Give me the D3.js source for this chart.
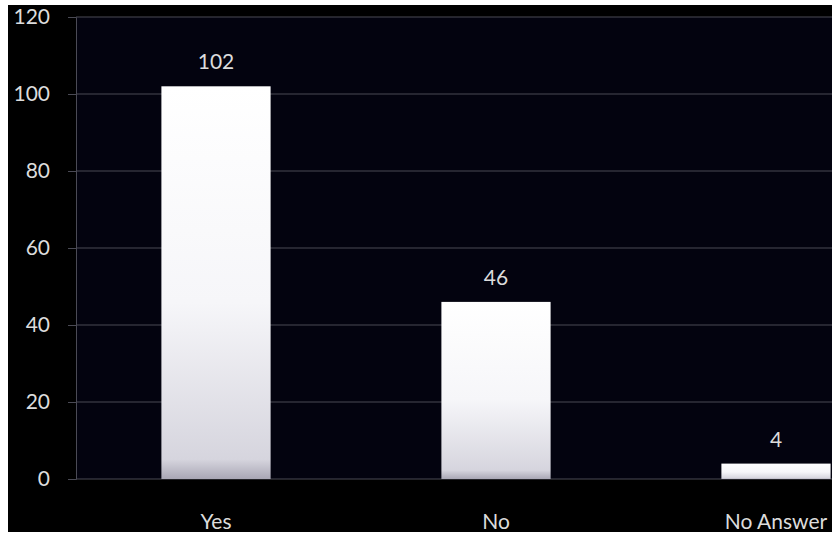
<!DOCTYPE html>
<html><head><meta charset="utf-8">
<script src="https://cdn.jsdelivr.net/npm/d3@7"></script>
<style>html,body{margin:0;padding:0;background:#fff;overflow:hidden}</style>
</head><body>
<svg id="c" width="832" height="534"></svg>
<script>
const categories = ["Yes", "No", "No Answer"];
const values = [102, 46, 4];
const yTicks = [0, 20, 40, 60, 80, 100, 120];

const svg = d3.select("#c");
const W = 832, H = 534;
const plot = {left: 76, top: 17, width: 840, bottom: 479};

svg.append("rect").attr("x", 8).attr("y", 5).attr("width", W - 8).attr("height", 527).attr("fill", "#000");

const defs = svg.append("defs");
const g = defs.append("linearGradient").attr("id", "barg").attr("x1", 0).attr("y1", 0).attr("x2", 0).attr("y2", 1);
g.append("stop").attr("offset", "0%").attr("stop-color", "#ffffff");
g.append("stop").attr("offset", "55%").attr("stop-color", "#f6f6f9");
g.append("stop").attr("offset", "95%").attr("stop-color", "#d6d5de");
g.append("stop").attr("offset", "100%").attr("stop-color", "#a9a7b5");

const x = d3.scaleBand().domain(categories).range([plot.left, plot.left + plot.width]).paddingInner(0.61).paddingOuter(0.305);
const y = d3.scaleLinear().domain([0, 120]).range([plot.bottom, plot.top]);

svg.append("rect").attr("x", plot.left).attr("y", plot.top).attr("width", plot.width).attr("height", plot.bottom - plot.top).attr("fill", "#03030f");

const font = "Lato, 'Open Sans', sans-serif";
const fs = "21px";

// gridlines
svg.append("g").selectAll("line").data(yTicks).join("line")
  .attr("x1", plot.left).attr("x2", plot.left + plot.width)
  .attr("y1", d => y(d)).attr("y2", d => y(d))
  .attr("stroke", "#4a4a55").attr("stroke-width", 1.2);

// y axis
const ya = svg.append("g").attr("transform", `translate(${plot.left},0)`)
  .call(d3.axisLeft(y).tickValues(yTicks).tickSize(8).tickPadding(18));
ya.select(".domain").attr("stroke", "#4a4a55");
ya.selectAll(".tick line").attr("stroke", "#4a4a55");
ya.selectAll("text").attr("fill", "#dcdcdc").style("font-family", font).style("font-size", fs);

// x axis
const xa = svg.append("g").attr("transform", `translate(0,${plot.bottom})`)
  .call(d3.axisBottom(x).tickSize(0).tickPadding(35));
xa.select(".domain").remove();
xa.selectAll("text").attr("fill", "#dcdcdc").style("font-family", font).style("font-size", fs);

// bars
svg.append("g").selectAll("rect").data(values).join("rect")
  .attr("x", (d, i) => x(categories[i]))
  .attr("width", x.bandwidth())
  .attr("y", d => y(d))
  .attr("height", d => y(0) - y(d))
  .attr("fill", "url(#barg)");

// value labels
svg.append("g").selectAll("text").data(values).join("text")
  .attr("x", (d, i) => x(categories[i]) + x.bandwidth() / 2)
  .attr("y", d => y(d) - 17)
  .attr("text-anchor", "middle")
  .attr("fill", "#dcdcdc")
  .style("font-family", font).style("font-size", fs)
  .text(d => d);

// white border bottom
svg.append("rect").attr("x", 0).attr("y", 532).attr("width", W).attr("height", 2).attr("fill", "#fff");
</script>
</body></html>
